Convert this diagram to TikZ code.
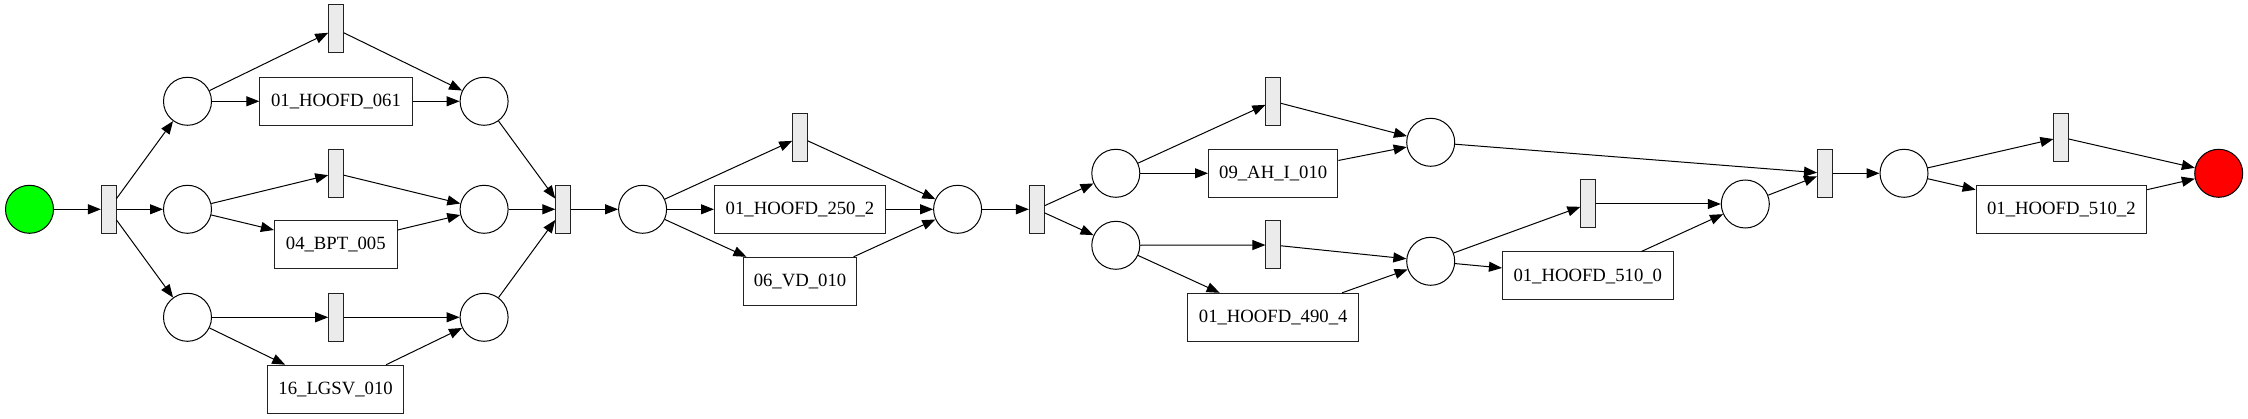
\documentclass[tikz,border=0pt]{standalone}
\usepackage{fontspec}
\setmainfont{Liberation Serif}
\usetikzlibrary{arrows.meta}
\definecolor{tgray}{HTML}{EBEBEB}
\definecolor{bgray}{HTML}{222222}
\tikzset{
  place/.style={circle, draw=black, line width=1pt, minimum size=48pt, inner sep=0pt},
  trans/.style={rectangle, draw=bgray, line width=1pt, fill=tgray, minimum width=14.6pt, minimum height=48pt, inner sep=0pt},
  act/.style={rectangle, draw=bgray, line width=1pt, minimum height=48pt, inner sep=0pt, font=\fontsize{18.7}{22}\selectfont},
  arc/.style={-{Triangle[length=13pt,width=10pt]}, line width=1pt, black}
}
\begin{document}
\begin{tikzpicture}[x=1pt,y=-1pt]
\useasboundingbox (0,0) rectangle (2248,419);
% nodes
\node[place, fill={rgb,255:red,0;green,255;blue,0}] (start) at (29.5,209.3) {};
\node[trans] (t1) at (108.7,209.3) {};
\node[place] (pA) at (187.5,101.3) {};
\node[place] (pB) at (187.5,209.3) {};
\node[place] (pC) at (187.5,317.3) {};
\node[trans] (tA) at (336,29) {};
\node[trans] (tB) at (336,173.3) {};
\node[trans] (tC) at (336,317.3) {};
\node[act, minimum width=152.3pt] (aA) at (336,101.3) {01\_HOOFD\_061};
\node[act, minimum width=122.8pt] (aB) at (335.8,244.8) {04\_BPT\_005};
\node[act, minimum width=136.2pt] (aC) at (335.6,389.2) {16\_LGSV\_010};
\node[place] (pD) at (484.1,101.3) {};
\node[place] (pE) at (484.1,209.3) {};
\node[place] (pF) at (484.1,317.3) {};
\node[trans] (t2) at (563.1,209.3) {};
\node[place] (p5) at (642.6,209.3) {};
\node[trans] (tD) at (800,137.3) {};
\node[act, minimum width=171pt] (aD) at (800,209.3) {01\_HOOFD\_250\_2};
\node[act, minimum width=113.3pt] (aE) at (800,281.3) {06\_VD\_010};
\node[place] (p6) at (957.6,209.3) {};
\node[trans] (t3) at (1036.7,209.3) {};
\node[place] (pG) at (1115.8,173.3) {};
\node[place] (pH) at (1115.8,245.3) {};
\node[trans] (tE) at (1273.2,101.3) {};
\node[act, minimum width=129.4pt] (aF) at (1273.2,173.3) {09\_AH\_I\_010};
\node[trans] (tF) at (1273.2,245) {};
\node[act, minimum width=171.5pt] (aG) at (1273.2,317.3) {01\_HOOFD\_490\_4};
\node[place] (pI) at (1430.7,142.3) {};
\node[place] (pJ) at (1430.7,261.3) {};
\node[trans] (tG) at (1588.2,204) {};
\node[act, minimum width=170.7pt] (aH) at (1587.8,276) {01\_HOOFD\_510\_0};
\node[place] (pK) at (1745.3,204) {};
\node[trans] (t4) at (1824.8,173.3) {};
\node[place] (pL) at (1904,173.3) {};
\node[trans] (tH) at (2061.2,137.3) {};
\node[act, minimum width=170.6pt] (aI) at (2061.4,209.3) {01\_HOOFD\_510\_2};
\node[place, fill={rgb,255:red,255;green,0;blue,0}] (end) at (2218.7,173.3) {};
% arcs
\draw[arc] (start) -- (t1);
\draw[arc] (t1) -- (pA);
\draw[arc] (t1) -- (pB);
\draw[arc] (t1) -- (pC);
\draw[arc] (pA) -- (tA);
\draw[arc] (pA) -- (aA);
\draw[arc] (tA) -- (pD);
\draw[arc] (aA) -- (pD);
\draw[arc] (pB) -- (tB);
\draw[arc] (pB) -- (aB);
\draw[arc] (tB) -- (pE);
\draw[arc] (aB) -- (pE);
\draw[arc] (pC) -- (tC);
\draw[arc] (pC) -- (aC);
\draw[arc] (tC) -- (pF);
\draw[arc] (aC) -- (pF);
\draw[arc] (pD) -- (t2);
\draw[arc] (pE) -- (t2);
\draw[arc] (pF) -- (t2);
\draw[arc] (t2) -- (p5);
\draw[arc] (p5) -- (tD);
\draw[arc] (p5) -- (aD);
\draw[arc] (p5) -- (aE);
\draw[arc] (tD) -- (p6);
\draw[arc] (aD) -- (p6);
\draw[arc] (aE) -- (p6);
\draw[arc] (p6) -- (t3);
\draw[arc] (t3) -- (pG);
\draw[arc] (t3) -- (pH);
\draw[arc] (pG) -- (tE);
\draw[arc] (pG) -- (aF);
\draw[arc] (tE) -- (pI);
\draw[arc] (aF) -- (pI);
\draw[arc] (pH) -- (tF);
\draw[arc] (pH) -- (aG);
\draw[arc] (tF) -- (pJ);
\draw[arc] (aG) -- (pJ);
\draw[arc] (pJ) -- (tG);
\draw[arc] (pJ) -- (aH);
\draw[arc] (tG) -- (pK);
\draw[arc] (aH) -- (pK);
\draw[arc] (pI) -- (t4);
\draw[arc] (pK) -- (t4);
\draw[arc] (t4) -- (pL);
\draw[arc] (pL) -- (tH);
\draw[arc] (pL) -- (aI);
\draw[arc] (tH) -- (end);
\draw[arc] (aI) -- (end);
\end{tikzpicture}
\end{document}
